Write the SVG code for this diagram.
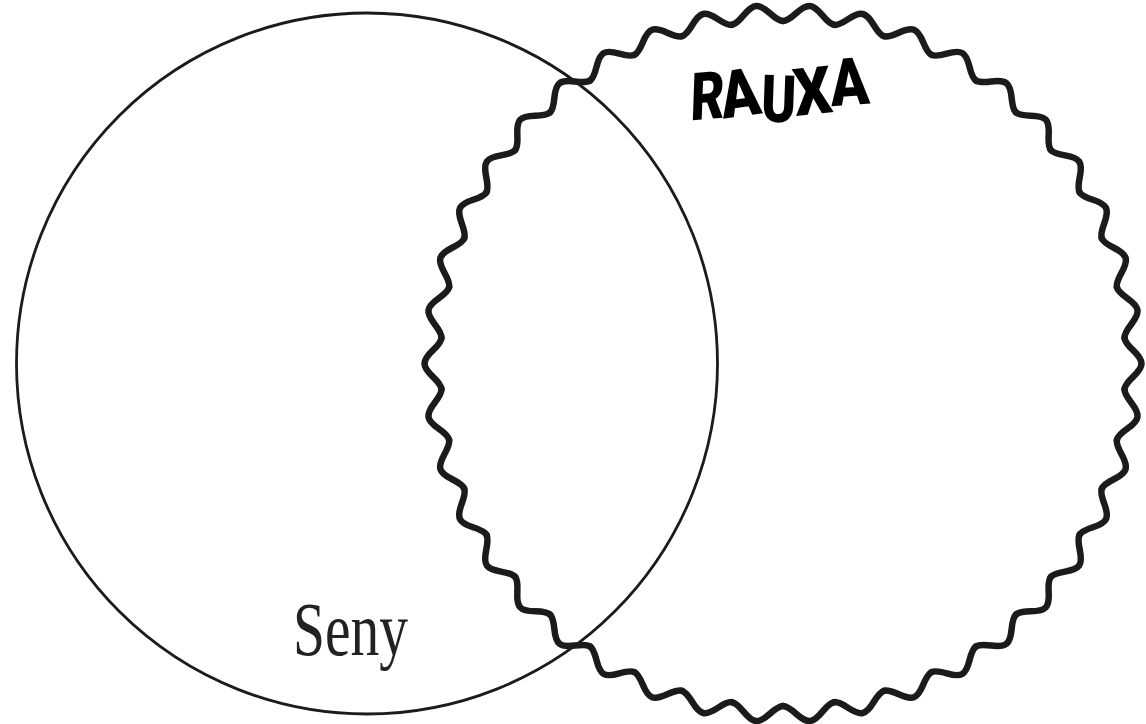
<svg xmlns="http://www.w3.org/2000/svg" xmlns:xlink="http://www.w3.org/1999/xlink" width="1146" height="724" viewBox="0 0 1146 724">
  <style>
    .thin { fill: none; stroke: #1b1b1b; stroke-width: 2.8; }
    .wave { fill: none; stroke: #1b1b1b; stroke-width: 6.5; stroke-linecap: round; stroke-linejoin: round; }
    .rauxa { font-family: Roboto, "Liberation Sans", sans-serif; font-weight: 900; font-size: 66px; fill: #000; text-anchor: middle; }
    .seny { font-family: "Liberation Serif", serif; font-size: 76px; fill: #222; }
  </style>
  <defs>
    <path id="period" d="M341.542,-25.595 C341.861,-21.337 345.906,-17.316 350.255,-13.106 C354.604,-8.896 358.5,-4.469 358.5,0 C358.5,4.469 354.604,8.896 350.255,13.106 C345.906,17.316 341.861,21.337 341.542,25.595"/>
    <g id="w7">
      <use xlink:href="#period" href="#period"/>
      <use xlink:href="#period" href="#period" transform="rotate(8.5714286)"/>
      <use xlink:href="#period" href="#period" transform="rotate(17.1428571)"/>
      <use xlink:href="#period" href="#period" transform="rotate(25.7142857)"/>
      <use xlink:href="#period" href="#period" transform="rotate(34.2857143)"/>
      <use xlink:href="#period" href="#period" transform="rotate(42.8571429)"/>
      <use xlink:href="#period" href="#period" transform="rotate(51.4285714)"/>
    </g>
  </defs>
  <rect width="1146" height="724" fill="#fff"/>
  <g id="seny-circle">
    <circle class="thin" cx="367" cy="363.5" r="350.5"/>
    <text class="seny" x="293" y="655" textLength="115" lengthAdjust="spacingAndGlyphs">Seny</text>
  </g>
  <g id="rauxa-wave">
    <g class="wave" transform="translate(783,363.5)">
      <use xlink:href="#w7" href="#w7"/>
      <use xlink:href="#w7" href="#w7" transform="rotate(60)"/>
      <use xlink:href="#w7" href="#w7" transform="rotate(120)"/>
      <use xlink:href="#w7" href="#w7" transform="rotate(180)"/>
      <use xlink:href="#w7" href="#w7" transform="rotate(240)"/>
      <use xlink:href="#w7" href="#w7" transform="rotate(300)"/>
    </g>
    <g id="rauxa-label">
      <text class="rauxa" transform="translate(707,119) rotate(-5) skewX(-7)" textLength="34" lengthAdjust="spacingAndGlyphs">R</text>
      <text class="rauxa" transform="translate(743,116) rotate(-8)" textLength="40" lengthAdjust="spacingAndGlyphs">A</text>
      <text class="rauxa" transform="translate(778,122) rotate(2)" textLength="35" lengthAdjust="spacingAndGlyphs">U</text>
      <text class="rauxa" transform="translate(815,114) rotate(-6)" textLength="38" lengthAdjust="spacingAndGlyphs">X</text>
      <text class="rauxa" transform="translate(851,105) rotate(-4)" textLength="39" lengthAdjust="spacingAndGlyphs">A</text>
    </g>
  </g>
</svg>
